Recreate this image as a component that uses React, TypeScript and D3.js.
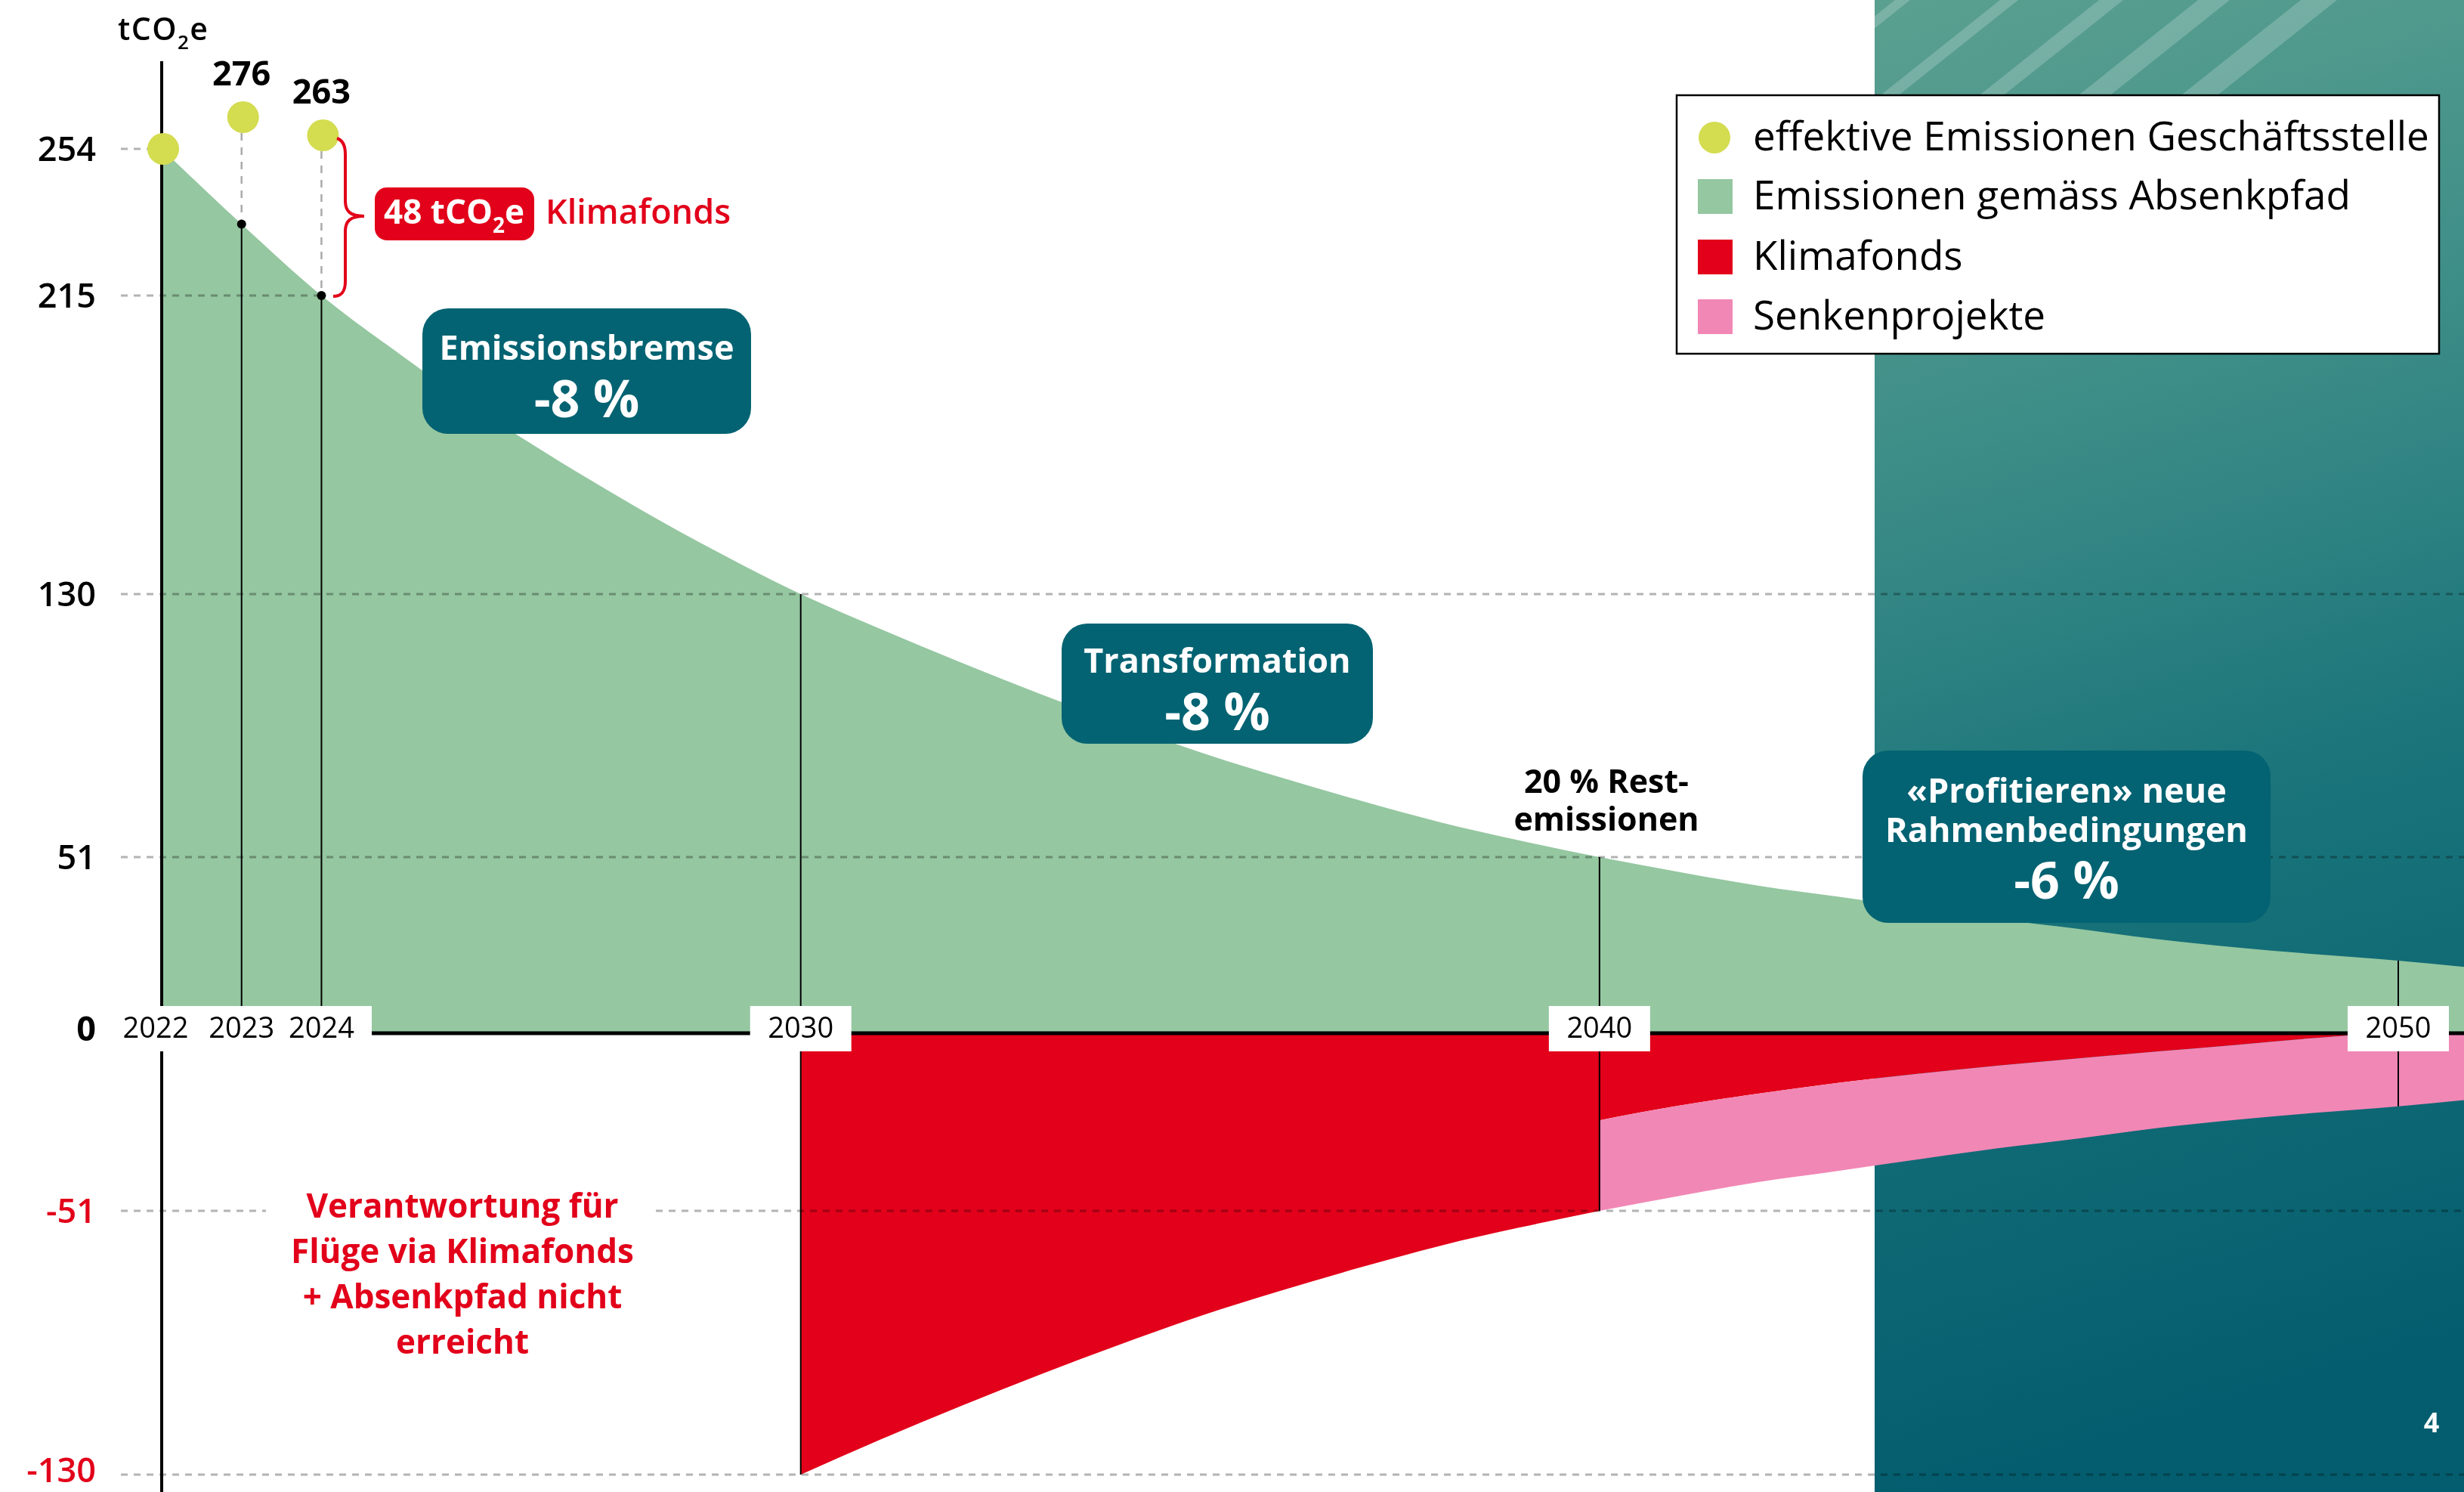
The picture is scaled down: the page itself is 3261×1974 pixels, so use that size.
import React from "react";
import * as d3 from "d3";

const W = 3261;
const H = 1974;
const FONT = "'Open Sans', 'Noto Sans', sans-serif";

// Absenkpfad (green area)
const years = [2022, 2023, 2024, 2025, 2026, 2027, 2028, 2029, 2030, 2031, 2032, 2033, 2034, 2035, 2036, 2037, 2038, 2039, 2040, 2041, 2042, 2043, 2044, 2045, 2046, 2047, 2048, 2049, 2050, 2051];
const absenkpfad = [254, 234, 215, 198, 182, 167.5, 154, 141.5, 130, 119.5, 109.5, 100, 91, 82.5, 75, 68, 61.5, 56, 51, 46.7, 42.7, 39.5, 36.2, 33, 30.2, 27.2, 24.8, 22.8, 21, 18.8];

// effective emissions (dots)
const effektivYears = [2022, 2023, 2024];
const effektivValues = [254, 276, 263];

// Klimafonds 2030-2040 (red, lower bound)
const klimaYears = [2030, 2031, 2032, 2033, 2034, 2035, 2036, 2037, 2038, 2039, 2040];
const klimaLower = [-130, -119.5, -109.5, -100, -91, -82.5, -75, -68, -61.5, -56, -51];

// 2040-2051: Klimafonds above, Senkenprojekte below
const senkenYears = [2040, 2041, 2042, 2043, 2044, 2045, 2046, 2047, 2048, 2049, 2050, 2051];
const senkenTop = [-25, -20.8, -17.3, -14.2, -11.6, -9.3, -7.2, -5.2, -3.3, -1.3, 0, 0];
const senkenBottom = [-51, -46.7, -42.7, -39.5, -36.2, -33, -30.2, -27.2, -24.8, -22.8, -21, -18.8];

const yTicks = [254, 215, 130, 51, 0, -51, -130];
const yearTicks = [2022, 2023, 2024, 2030, 2040, 2050];
const stemYears = [2023, 2024, 2030, 2040, 2050];

const legendLabels = ["effektive Emissionen Geschäftsstelle", "Emissionen gemäss Absenkpfad", "Klimafonds", "Senkenprojekte"];
const legendKinds = ["dot", "square", "square", "square"];

const C = {
  green: "#95c7a1",
  red: "#e2001a",
  pink: "#f187b5",
  dot: "#d4dc50",
  teal: "#046372",
  grid: "#b3b3b3",
};

const phaseLabels = [
  { lines: ["Emissionsbremse"], pct: "-8 %" },
  { lines: ["Transformation"], pct: "-8 %" },
  { lines: ["«Profitieren» neue", "Rahmenbedingungen"], pct: "-6 %" },
];

const redNoteLines = ["Verantwortung für", "Flüge via Klimafonds", "+ Absenkpfad nicht", "erreicht"];

export default function App() {
  const x = d3.scaleLinear().domain([2022, 2050]).range([214, 3174]);
  const y = d3
    .scaleLinear()
    .domain([-130, -51, 0, 51, 130, 215, 254, 263, 276])
    .range([1951, 1602, 1367, 1134, 786, 391, 197, 179, 155]);

  const greenArea = d3
    .area<number>()
    .x((_, i) => x(years[i]))
    .y0(y(0))
    .y1((d) => y(d))
    .curve(d3.curveMonotoneX)(absenkpfad) as string;

  const red1 = d3
    .area<number>()
    .x((_, i) => x(klimaYears[i]))
    .y0(y(0))
    .y1((d) => y(d))
    .curve(d3.curveMonotoneX)(klimaLower) as string;

  const red2 = d3
    .area<number>()
    .x((_, i) => x(senkenYears[i]))
    .y0(y(0))
    .y1((d) => y(d))
    .curve(d3.curveMonotoneX)(senkenTop) as string;

  const pink = d3
    .area<number>()
    .x((_, i) => x(senkenYears[i]))
    .y0((_, i) => y(senkenTop[i]))
    .y1((d) => y(d))
    .curve(d3.curveMonotoneX)(senkenBottom) as string;

  const greenAt = (yr: number) => absenkpfad[years.indexOf(yr)];
  const lowerAt = (yr: number) => {
    if (yr < 2030) return 0;
    if (yr <= 2040) return klimaLower[klimaYears.indexOf(yr)];
    return senkenBottom[senkenYears.indexOf(yr)];
  };

  const gridSegs: [number, number, number][] = [
    [254, 160, 200],
    [215, 160, x(2024)],
    [130, 160, W],
    [51, 160, W],
    [-51, 160, 352],
    [-51, 868, W],
    [-130, 160, W],
  ];

  const tealX = 2481;
  const stripeTops = [2508, 2647, 2778, 2909, 3045];
  const stripeW = [20, 24, 32, 42, 48];

  const dotR = 21;

  const boxes = [
    { x: 559, y: 408, w: 435, h: 166, t1: 476, step: 0, pct: 552 },
    { x: 1405, y: 825, w: 412, h: 159, t1: 890, step: 0, pct: 966 },
    { x: 2465, y: 993, w: 540, h: 228, t1: 1062, step: 52, pct: 1189 },
  ];

  return (
    <svg
      width={W}
      height={H}
      viewBox={`0 0 ${W} ${H}`}
      style={{ position: "absolute", left: 0, top: 0, display: "block" }}
      fontFamily={FONT}
    >
      <defs>
        <linearGradient id="tealGrad" x1="0" y1="0" x2="0.12" y2="1">
          <stop offset="0" stopColor="#5ba090" />
          <stop offset="0.3" stopColor="#3e8e88" />
          <stop offset="0.6" stopColor="#1a747a" />
          <stop offset="1" stopColor="#035d6e" />
        </linearGradient>
        <clipPath id="tealClip">
          <rect x={tealX} y={0} width={W - tealX} height={H} />
        </clipPath>
      </defs>
      <rect x={0} y={0} width={W} height={H} fill="#fff" />
      <rect x={tealX} y={0} width={W - tealX} height={H} fill="url(#tealGrad)" />
      <g clipPath="url(#tealClip)" fill="#ffffff" fillOpacity={0.2}>
        {stripeTops.map((sx, i) => {
          const yb = 135;
          const sh = (157 / 125) * yb;
          return (
            <polygon
              key={i}
              points={`${sx},0 ${sx + stripeW[i]},0 ${sx + stripeW[i] - sh},${yb} ${sx - sh},${yb}`}
            />
          );
        })}
      </g>

      {/* areas */}
      <path d={greenArea} fill={C.green} />
      <path d={red1} fill={C.red} />
      <path d={red2} fill={C.red} />
      <path d={pink} fill={C.pink} />

      {/* dashed grid */}
      <g stroke={C.grid} strokeWidth={3} strokeDasharray="9 8" style={{ mixBlendMode: "multiply" }}>
        {gridSegs.map(([v, x1, x2], i) => (
          <line key={i} x1={x1} x2={x2} y1={y(v)} y2={y(v)} />
        ))}
      </g>

      {/* dashed verticals from effective dots */}
      <g stroke="#aaaaaa" strokeWidth={2.5} strokeDasharray="10 9">
        {effektivYears.slice(1).map((yr, i) => (
          <line key={yr} x1={x(yr)} x2={x(yr)} y1={y(effektivValues[i + 1]) + dotR} y2={y(greenAt(yr)) - 6} />
        ))}
      </g>

      {/* axes */}
      <line x1={x(2022)} x2={x(2022)} y1={81} y2={H} stroke="#000" strokeWidth={4} />
      <line x1={x(2022)} x2={W} y1={y(0)} y2={y(0)} stroke="#000" strokeWidth={5} />

      {/* stems */}
      <g stroke="#000" strokeWidth={2}>
        {stemYears.map((yr) => (
          <line key={yr} x1={x(yr)} x2={x(yr)} y1={y(greenAt(yr))} y2={y(lowerAt(yr))} />
        ))}
      </g>
      {[2023, 2024].map((yr) => (
        <circle key={yr} cx={x(yr)} cy={y(greenAt(yr))} r={6} fill="#000" />
      ))}

      {/* effective emission dots */}
      {effektivYears.map((yr, i) => (
        <circle key={yr} cx={x(yr) + 2} cy={y(effektivValues[i])} r={dotR} fill={C.dot} />
      ))}
      {effektivYears.slice(1).map((yr, i) => (
        <text
          key={yr}
          x={x(yr)}
          y={y(effektivValues[i + 1]) - 42}
          textAnchor="middle"
          fontSize={45}
          fontWeight={700}
          fill="#000"
        >
          {effektivValues[i + 1]}
        </text>
      ))}

      {/* year labels */}
      <rect x={160} y={1331} width={332} height={60} fill="#fff" />
      {yearTicks
        .filter((yr) => yr >= 2030)
        .map((yr) => (
          <rect key={yr} x={x(yr) - 67} y={1331} width={134} height={60} fill="#fff" />
        ))}
      {yearTicks.map((yr) => (
        <text key={yr} x={x(yr) - (yr === 2022 ? 8 : 0)} y={1373} textAnchor="middle" fontSize={38} fill="#000">
          {yr}
        </text>
      ))}

      {/* y tick labels */}
      {yTicks.map((v) => (
        <text
          key={v}
          x={127}
          y={y(v) - (v === -130 ? 6 : 0)}
          dy={v === 0 ? "0.22em" : "0.36em"}
          textAnchor="end"
          fontSize={45}
          fontWeight={v === 0 ? 700 : 600}
          fill={v < 0 ? C.red : "#000"}
        >
          {v}
        </text>
      ))}

      {/* unit */}
      <text x={156} y={53} fontSize={41} fontWeight={600} letterSpacing={1.5} fill="#000">
        tCO
        <tspan fontSize={26} dy={12}>
          2
        </tspan>
        <tspan dy={-12}>e</tspan>
      </text>

      {/* brace + Klimafonds note */}
      <path
        d="M446,183 C455,186 457,194 457,204 L457,266 C457,279 463,286 482,286 C463,286 457,293 457,306 L457,372 C457,386 452,392 441,392"
        fill="none"
        stroke={C.red}
        strokeWidth={4}
      />
      <rect x={496} y={248} width={211} height={70} rx={16} fill={C.red} />
      <text x={601} y={296} textAnchor="middle" fontSize={44} fontWeight={700} fill="#fff">
        48 tCO
        <tspan fontSize={28} dy={12}>
          2
        </tspan>
        <tspan dy={-12}>e</tspan>
      </text>
      <text x={722} y={296} fontSize={45} fontWeight={600} fill={C.red}>
        Klimafonds
      </text>

      {/* phase boxes */}
      {boxes.map((b, i) => {
        const cx = b.x + b.w / 2;
        return (
          <g key={i}>
            <rect x={b.x} y={b.y} width={b.w} height={b.h} rx={34} fill={C.teal} />
            {phaseLabels[i].lines.map((ln, j) => (
              <text key={j} x={cx} y={b.t1 + j * b.step} textAnchor="middle" fontSize={45} fontWeight={700} fill="#fff">
                {ln}
              </text>
            ))}
            <text x={cx} y={b.pct} textAnchor="middle" fontSize={68} fontWeight={700} fill="#fff">
              {phaseLabels[i].pct}
            </text>
          </g>
        );
      })}

      {/* rest emissions */}
      <text x={2126} y={1049} textAnchor="middle" fontSize={43} fontWeight={700} fill="#000">
        20 % Rest-
      </text>
      <text x={2126} y={1099} textAnchor="middle" fontSize={43} fontWeight={700} fill="#000">
        emissionen
      </text>

      {/* red note */}
      {redNoteLines.map((ln, i) => (
        <text key={i} x={612} y={1611 + i * 60} textAnchor="middle" fontSize={44} fontWeight={700} fill={C.red}>
          {ln}
        </text>
      ))}

      {/* legend */}
      <rect x={2219} y={126} width={1009} height={342} fill="#fff" stroke="#000" strokeWidth={2.5} />
      {legendLabels.map((lab, i) => {
        const cy = [182, 260, 340, 419][i];
        const col = [C.dot, C.green, C.red, C.pink][i];
        return (
          <g key={i}>
            {legendKinds[i] === "dot" ? (
              <circle cx={2269} cy={cy} r={21} fill={col} />
            ) : (
              <rect x={2247} y={cy - 23} width={46} height={46} fill={col} />
            )}
            <text x={2320} y={cy + 17} fontSize={53} fill="#000">
              {lab}
            </text>
          </g>
        );
      })}

      {/* page number */}
      <text x={3218} y={1895} textAnchor="middle" fontSize={36} fontWeight={700} fill="#fff">
        4
      </text>
    </svg>
  );
}
